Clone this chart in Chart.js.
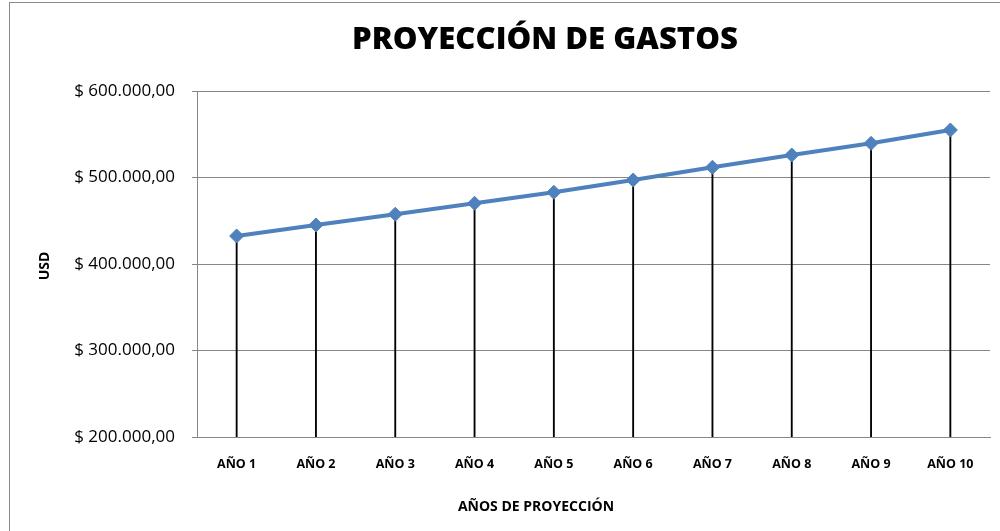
<!DOCTYPE html>
<html>
<head>
<meta charset="utf-8">
<script src="https://cdn.jsdelivr.net/npm/chart.js@4/dist/chart.umd.min.js"></script>
<style>
  html, body { margin: 0; padding: 0; background: #fff; }
  #wrap { position: relative; width: 1000px; height: 531px; overflow: hidden; }
  #frame { position: absolute; left: 9px; top: 2px; width: 1200px; height: 600px;
           border-left: 1px solid #8a8a8a; border-top: 1px solid #8a8a8a; box-sizing: border-box; }
  canvas { position: absolute; left: 0; top: 0; }
</style>
</head>
<body>
<div id="wrap">
  <div id="frame"></div>
  <canvas id="c" width="1000" height="531"></canvas>
</div>
<script>
const categories = ['AÑO 1','AÑO 2','AÑO 3','AÑO 4','AÑO 5','AÑO 6','AÑO 7','AÑO 8','AÑO 9','AÑO 10'];
const gastos = [432400, 445100, 457500, 470200, 482900, 497100, 511800, 526000, 539500, 554900];
const yTicks = [200000, 300000, 400000, 500000, 600000];
const chartTitle = 'PROYECCIÓN DE GASTOS';
const xTitle = 'AÑOS DE PROYECCIÓN';
const yTitle = 'USD';

function fmt(v) {
  const s = Math.round(v).toString().replace(/\B(?=(\d{3})+(?!\d))/g, '.');
  return '$ ' + s + ',00';
}

const textPlugin = {
  id: 'texts',
  afterDraw(chart) {
    const ctx = chart.ctx;
    ctx.save();
    ctx.fillStyle = '#000';
    ctx.font = '800 30px "Open Sans"';
    ctx.textAlign = 'center';
    ctx.textBaseline = 'alphabetic';
    const w = ctx.measureText(chartTitle).width;
    const target = 386;
    ctx.save();
    ctx.translate(545, 49);
    ctx.scale(target / w, 1);
    ctx.fillText(chartTitle, 0, 0);
    ctx.restore();
    ctx.font = 'bold 14px "Open Sans"';
    ctx.textBaseline = 'middle';
    ctx.fillText(xTitle, 536, 507);
    ctx.save();
    ctx.translate(45, 266);
    ctx.rotate(-Math.PI / 2);
    ctx.font = 'bold 14px "Open Sans"';
    ctx.fillText(yTitle, 0, 0);
    ctx.restore();
    ctx.restore();
  }
};

new Chart(document.getElementById('c'), {
  data: {
    labels: categories,
    datasets: [
      {
        type: 'line',
        data: gastos,
        borderColor: '#4F81BD',
        backgroundColor: '#4F81BD',
        borderWidth: 4,
        pointStyle: 'rectRot',
        pointRadius: 7,
        pointBorderWidth: 1,
        pointBorderColor: '#4F81BD',
        tension: 0,
        order: 0
      },
      {
        type: 'bar',
        data: gastos,
        backgroundColor: '#000',
        barThickness: 1.2,
        order: 1
      }
    ]
  },
  options: {
    responsive: false,
    animation: false,
    devicePixelRatio: 1,
    layout: { padding: { left: 0, right: 10, top: 91, bottom: 0 } },
    plugins: { legend: { display: false }, tooltip: { enabled: false }, title: { display: false } },
    scales: {
      x: {
        offset: true,
        grid: { display: false, drawTicks: false },
        border: { display: true, color: '#868686', width: 1 },
        ticks: { color: '#000', font: { family: '"Open Sans"', size: 12.5, weight: 'bold' }, padding: 20, maxRotation: 0, autoSkip: false },
        afterFit(scale) { scale.height = 94; }
      },
      y: {
        min: 200000,
        max: 600000,
        afterBuildTicks(scale) { scale.ticks = yTicks.map(v => ({ value: v })); },
        grid: { color: '#868686', lineWidth: 1, tickLength: 5, drawTicks: true },
        border: { display: true, color: '#868686', width: 1 },
        ticks: { color: '#000', font: { family: '"Open Sans"', size: 17 }, padding: 17, callback: (v) => fmt(v) },
        afterFit(scale) { scale.width = 197; }
      }
    }
  },
  plugins: [textPlugin]
});
</script>
</body>
</html>
